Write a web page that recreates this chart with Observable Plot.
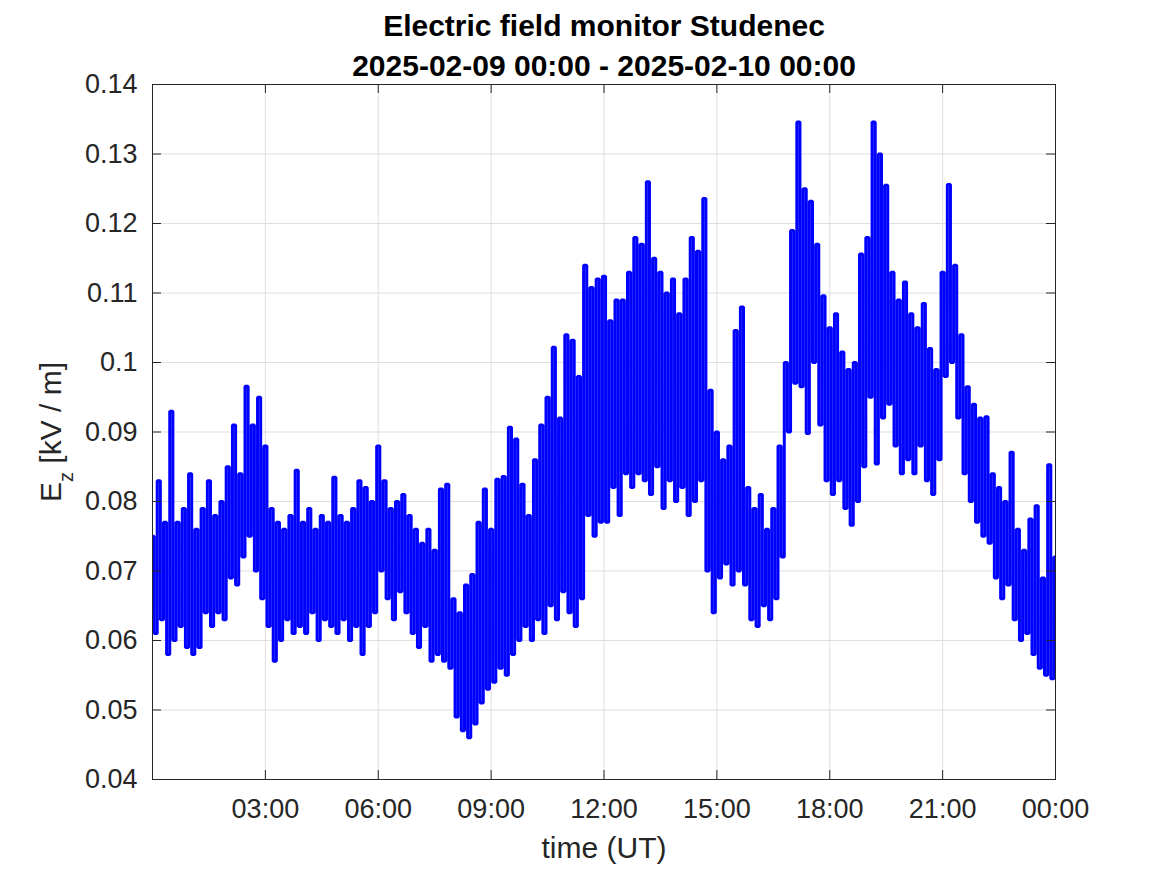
<!DOCTYPE html>
<html>
<head>
<meta charset="utf-8">
<script src="https://cdn.jsdelivr.net/npm/d3@7"></script>
<script src="https://cdn.jsdelivr.net/npm/@observablehq/plot@0.6"></script>
<style>
  body { margin: 0; background: #ffffff; }
  #chart { width: 1167px; height: 875px; }
</style>
</head>
<body>
<div id="chart"></div>
<script>
// ---- chart text ----
const titleLine1 = "Electric field monitor Studenec";
const titleLine2 = "2025-02-09 00:00 - 2025-02-10 00:00";
const xLabel = "time (UT)";
const yLabelMain = "E";
const yLabelSub = "z";
const yLabelRest = " [kV / m]";

// ---- time axis ----
const startTime = "2025-02-09T00:00:00Z";
const endTime = "2025-02-10T00:00:00Z";
const sampleMinutes = 5;
const xTickHours = [3, 6, 9, 12, 15, 18, 21, 24];
const yTicks = [0.04, 0.05, 0.06, 0.07, 0.08, 0.09, 0.1, 0.11, 0.12, 0.13, 0.14];

// ---- Ez values [kV/m], one every 5 minutes ----
const ezH00 = [0.075, 0.061, 0.083, 0.063, 0.077, 0.058, 0.093, 0.060, 0.077, 0.062, 0.079, 0.059];
const ezH01 = [0.084, 0.058, 0.076, 0.059, 0.079, 0.064, 0.083, 0.062, 0.078, 0.064, 0.080, 0.063];
const ezH02 = [0.085, 0.069, 0.091, 0.068, 0.084, 0.072, 0.0966, 0.075, 0.091, 0.070, 0.095, 0.066];
const ezH03 = [0.088, 0.062, 0.079, 0.057, 0.077, 0.060, 0.076, 0.063, 0.078, 0.061, 0.0845, 0.062];
const ezH04 = [0.077, 0.061, 0.079, 0.064, 0.076, 0.060, 0.078, 0.063, 0.077, 0.062, 0.0835, 0.061];
const ezH05 = [0.078, 0.063, 0.077, 0.060, 0.079, 0.062, 0.083, 0.058, 0.082, 0.062, 0.080, 0.064];
const ezH06 = [0.088, 0.070, 0.083, 0.066, 0.079, 0.063, 0.080, 0.067, 0.081, 0.064, 0.078, 0.061];
const ezH07 = [0.076, 0.059, 0.074, 0.062, 0.076, 0.057, 0.073, 0.058, 0.0818, 0.057, 0.0825, 0.056];
const ezH08 = [0.066, 0.049, 0.064, 0.047, 0.068, 0.046, 0.0695, 0.048, 0.077, 0.051, 0.0818, 0.053];
const ezH09 = [0.076, 0.054, 0.0832, 0.056, 0.0836, 0.055, 0.0907, 0.058, 0.089, 0.060, 0.0825, 0.062];
const ezH10 = [0.078, 0.060, 0.086, 0.063, 0.091, 0.061, 0.095, 0.065, 0.1022, 0.063, 0.092, 0.067];
const ezH11 = [0.104, 0.064, 0.1032, 0.062, 0.098, 0.066, 0.114, 0.078, 0.1108, 0.075, 0.112, 0.077];
const ezH12 = [0.1124, 0.077, 0.106, 0.082, 0.109, 0.078, 0.109, 0.084, 0.113, 0.082, 0.118, 0.084];
const ezH13 = [0.117, 0.083, 0.126, 0.081, 0.115, 0.085, 0.113, 0.079, 0.110, 0.083, 0.112, 0.080];
const ezH14 = [0.107, 0.082, 0.112, 0.078, 0.118, 0.080, 0.116, 0.083, 0.1236, 0.070, 0.096, 0.064];
const ezH15 = [0.090, 0.069, 0.086, 0.071, 0.088, 0.068, 0.1046, 0.070, 0.108, 0.068, 0.082, 0.063];
const ezH16 = [0.079, 0.062, 0.081, 0.065, 0.076, 0.063, 0.079, 0.066, 0.088, 0.072, 0.100, 0.090];
const ezH17 = [0.119, 0.097, 0.1346, 0.0965, 0.125, 0.0898, 0.1232, 0.100, 0.117, 0.091, 0.1096, 0.083];
const ezH18 = [0.105, 0.081, 0.107, 0.083, 0.1015, 0.079, 0.099, 0.0766, 0.100, 0.080, 0.1156, 0.085];
const ezH19 = [0.118, 0.095, 0.1346, 0.0854, 0.130, 0.092, 0.1255, 0.094, 0.113, 0.088, 0.109, 0.084];
const ezH20 = [0.1116, 0.086, 0.107, 0.084, 0.105, 0.088, 0.1085, 0.083, 0.102, 0.081, 0.099, 0.086];
const ezH21 = [0.113, 0.098, 0.1256, 0.100, 0.114, 0.092, 0.104, 0.084, 0.0965, 0.080, 0.094, 0.077];
const ezH22 = [0.092, 0.075, 0.0922, 0.074, 0.084, 0.069, 0.082, 0.066, 0.080, 0.068, 0.0871, 0.063];
const ezH23 = [0.076, 0.060, 0.073, 0.061, 0.0775, 0.058, 0.0794, 0.056, 0.069, 0.055, 0.0853, 0.0545];
const ezEnd = [0.072];

const ezValues = [].concat(ezH00, ezH01, ezH02, ezH03, ezH04, ezH05, ezH06, ezH07, ezH08, ezH09,
  ezH10, ezH11, ezH12, ezH13, ezH14, ezH15, ezH16, ezH17, ezH18, ezH19, ezH20, ezH21, ezH22, ezH23, ezEnd);

const t0 = new Date(startTime);
const t1 = new Date(endTime);
const data = ezValues.map((v, i) => ({time: new Date(+t0 + i * sampleMinutes * 60000), ez: v}));
const xTicks = xTickHours.map(h => new Date(+t0 + h * 3600000));

const axisColor = "#262626";
const gridColor = "#dfdfdf";
const fontFamily = "'Liberation Sans', Arial, Helvetica, sans-serif";

const chart = Plot.plot({
  width: 1167,
  height: 875,
  marginTop: 84,
  marginBottom: 96,
  marginLeft: 152,
  marginRight: 112,
  style: {fontFamily, background: "#ffffff", color: axisColor},
  x: {type: "utc", domain: [t0, t1]},
  y: {domain: [0.04, 0.14]},
  marks: [
    Plot.gridX(xTicks, {stroke: gridColor, strokeOpacity: 1}),
    Plot.gridY(yTicks, {stroke: gridColor, strokeOpacity: 1}),
    Plot.line(data, {x: "time", y: "ez", stroke: "#0000ff", strokeWidth: 3, curve: "step",
      strokeLinejoin: "miter", strokeLinecap: "butt"}),
    Plot.frame({stroke: axisColor, strokeWidth: 1}),
    Plot.tickX(xTicks, {x: d => d, stroke: axisColor, insetTop: 686}),
    Plot.tickX(xTicks, {x: d => d, stroke: axisColor, insetBottom: 686}),
    Plot.tickY(yTicks, {y: d => d, stroke: axisColor, insetLeft: 894}),
    Plot.tickY(yTicks, {y: d => d, stroke: axisColor, insetRight: 894}),
    Plot.axisX(xTicks, {tickSize: 0, tickPadding: 19, fontSize: 27, fill: axisColor,
      tickFormat: d3.utcFormat("%H:%M"), label: null}),
    Plot.axisY(yTicks, {tickSize: 0, tickPadding: 15, fontSize: 27, fill: axisColor,
      tickFormat: d => String(d), label: null}),
    Plot.text([titleLine1], {frameAnchor: "top", dy: -49, fontSize: 30, fontWeight: "bold",
      fill: "#000000", lineAnchor: "bottom"}),
    Plot.text([titleLine2], {frameAnchor: "top", dy: -9, fontSize: 30, fontWeight: "bold",
      fill: "#000000", lineAnchor: "bottom"}),
    Plot.text([xLabel], {frameAnchor: "bottom", dy: 78, fontSize: 30, fill: axisColor, lineAnchor: "bottom"}),
    Plot.text([yLabelMain + yLabelSub + yLabelRest], {frameAnchor: "left", dx: -92, rotate: -90,
      fontSize: 30, fill: axisColor, lineAnchor: "bottom", textAnchor: "middle"})
  ]
});

document.getElementById("chart").appendChild(chart);

// subscript for the y label
chart.querySelectorAll("text").forEach(t => {
  if (t.textContent === yLabelMain + yLabelSub + yLabelRest) {
    t.textContent = "";
    const ns = "http://www.w3.org/2000/svg";
    const a = document.createElementNS(ns, "tspan");
    a.textContent = yLabelMain;
    const b = document.createElementNS(ns, "tspan");
    b.textContent = yLabelSub;
    b.setAttribute("font-size", "20");
    b.setAttribute("dy", "12");
    const c = document.createElementNS(ns, "tspan");
    c.textContent = yLabelRest;
    c.setAttribute("dy", "-12");
    t.appendChild(a); t.appendChild(b); t.appendChild(c);
  }
});
</script>
</body>
</html>
